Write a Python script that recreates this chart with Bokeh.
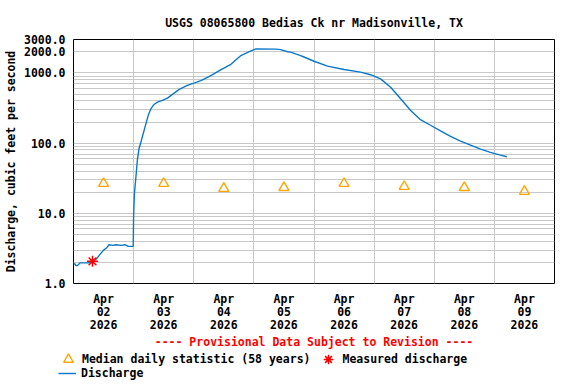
import pandas as pd
from bokeh.plotting import figure
from bokeh.layouts import column
from bokeh.models import (FixedTicker, Range1d, Legend, LegendItem,
                          PrintfTickFormatter)
from bokeh.embed import file_html
from bokeh.resources import INLINE

# ---------------- data ----------------
title_text = "USGS 08065800 Bedias Ck nr Madisonville, TX"
y_label = "Discharge, cubic feet per second"
provisional_text = "---- Provisional Data Subject to Revision ----"
median_label = "Median daily statistic (58 years)"
measured_label = "Measured discharge"
discharge_label = "Discharge"

discharge_times = [
    "2026-04-02 00:00", "2026-04-02 00:35", "2026-04-02 01:00", "2026-04-02 01:30",
    "2026-04-02 01:55", "2026-04-02 02:35", "2026-04-02 05:55", "2026-04-02 06:40",
    "2026-04-02 07:35", "2026-04-02 09:10", "2026-04-02 10:30", "2026-04-02 11:55",
    "2026-04-02 13:10", "2026-04-02 14:10", "2026-04-02 15:50", "2026-04-02 17:00",
    "2026-04-02 19:00", "2026-04-02 20:30", "2026-04-02 21:50", "2026-04-02 23:50",
    "2026-04-03 00:00", "2026-04-03 00:20", "2026-04-03 00:55", "2026-04-03 01:30",
    "2026-04-03 02:10", "2026-04-03 02:55", "2026-04-03 03:50", "2026-04-03 04:55",
    "2026-04-03 05:50", "2026-04-03 06:55", "2026-04-03 08:10", "2026-04-03 09:30",
    "2026-04-03 11:30", "2026-04-03 13:30", "2026-04-03 15:30", "2026-04-03 18:05",
    "2026-04-03 21:25", "2026-04-04 00:05", "2026-04-04 02:50", "2026-04-04 06:05",
    "2026-04-04 08:10", "2026-04-04 10:55", "2026-04-04 14:50", "2026-04-04 18:50",
    "2026-04-04 22:50", "2026-04-05 00:05", "2026-04-05 00:50", "2026-04-05 08:50",
    "2026-04-05 10:40", "2026-04-05 13:25", "2026-04-05 14:40", "2026-04-05 18:40",
    "2026-04-05 20:00", "2026-04-06 00:00", "2026-04-06 05:25", "2026-04-06 12:00",
    "2026-04-06 18:35", "2026-04-06 22:35", "2026-04-07 02:35", "2026-04-07 06:35",
    "2026-04-07 10:35", "2026-04-07 14:35", "2026-04-07 18:30", "2026-04-07 22:30",
    "2026-04-08 02:30", "2026-04-08 06:30", "2026-04-08 10:30", "2026-04-08 14:30",
    "2026-04-08 18:30", "2026-04-08 22:25", "2026-04-09 02:25", "2026-04-09 05:00",
]
discharge_cfs = [
    1.90, 1.90, 1.80, 1.80,
    1.85, 1.97, 1.97, 2.02,
    2.07, 2.24, 2.58, 2.97,
    3.20, 3.57, 3.50, 3.57,
    3.50, 3.57, 3.38, 3.38,
    9.5, 19.3, 33, 57.6,
    84, 104, 137, 190,
    249, 310, 356, 385,
    408, 439, 496, 580,
    664, 718, 780, 890,
    980, 1120, 1330, 1770,
    2060, 2150, 2200, 2190,
    2150, 2010, 1980, 1770,
    1690, 1470, 1250, 1120,
    1030, 945, 825, 625,
    430, 292, 216, 180,
    150, 125, 107, 94,
    82, 74, 67.5, 64,
]

median_times = ["2026-04-02 12:00", "2026-04-03 12:00", "2026-04-04 12:00",
                "2026-04-05 12:00", "2026-04-06 12:00", "2026-04-07 12:00",
                "2026-04-08 12:00", "2026-04-09 12:00"]
median_cfs = [26.6, 26.6, 22.6, 23.3, 26.6, 24.1, 23.3, 20.5]

measured_times = ["2026-04-02 07:35"]
measured_cfs = [2.07]

tick_times = median_times
tick_labels = ["Apr\n02\n2026", "Apr\n03\n2026", "Apr\n04\n2026", "Apr\n05\n2026",
               "Apr\n06\n2026", "Apr\n07\n2026", "Apr\n08\n2026", "Apr\n09\n2026"]
grid_times = ["2026-04-03", "2026-04-04", "2026-04-05", "2026-04-06",
              "2026-04-07", "2026-04-08", "2026-04-09"]
x_start, x_end = "2026-04-02 00:00", "2026-04-10 00:00"

y_ticks = [1, 10, 100, 1000, 2000, 3000]
y_grid = [1, 2, 3, 4, 5, 6, 7, 8, 9,
          10, 20, 30, 40, 50, 60, 70, 80, 90,
          100, 200, 300, 400, 500, 600, 700, 800, 900,
          1000, 2000, 3000]
y_start, y_end = 1, 3000

# ---------------- helpers ----------------
def ms(s):
    return pd.Timestamp(s).value / 1e6

FONT = "DejaVu Sans Mono"
FS = "11.5px"
GRID = "#c8c8c8"
LINE_BLUE = "#0a78c8"

line_style = dict(line_color=LINE_BLUE, line_width=1.4)
med_style = dict(marker="triangle", size=10, fill_color=None,
                 line_color="orange", line_width=1.4)
meas_style = dict(marker="asterisk", size=11, line_color="red", line_width=1.5)

# ---------------- main chart ----------------
p = figure(width=576, height=351, x_axis_type="datetime", y_axis_type="log",
           x_range=Range1d(ms(x_start), ms(x_end)),
           y_range=Range1d(y_start, y_end),
           output_backend="svg", toolbar_location=None,
           min_border_left=72, min_border_right=22,
           min_border_top=39, min_border_bottom=67,
           background_fill_color="white", border_fill_color="white",
           outline_line_color="black", outline_line_width=1)
p.frame_align = False

p.title.text = title_text
p.title.align = "center"
p.title.text_font = FONT
p.title.text_font_size = FS
p.title.text_font_style = "bold"
p.title.text_color = "black"
p.title.standoff = 19

p.xgrid.ticker = FixedTicker(ticks=[ms(t) for t in grid_times])
p.xgrid.grid_line_color = GRID
p.ygrid.ticker = FixedTicker(ticks=y_grid)
p.ygrid.grid_line_color = GRID

xa = p.xaxis[0]
xa.ticker = FixedTicker(ticks=[ms(t) for t in tick_times])
xa.major_label_overrides = {ms(t): lab for t, lab in zip(tick_times, tick_labels)}
xa.major_tick_line_color = None
xa.minor_tick_line_color = None
xa.axis_line_color = None
xa.major_tick_out = 0
xa.major_label_standoff = 8
xa.major_label_text_font = FONT
xa.major_label_text_font_size = FS
xa.major_label_text_font_style = "bold"
xa.major_label_text_color = "black"
xa.major_label_text_line_height = 0.93
xa.axis_label = provisional_text
xa.axis_label_text_font = FONT
xa.axis_label_text_font_size = FS
xa.axis_label_text_font_style = "bold"
xa.axis_label_text_color = "red"
xa.axis_label_standoff = 0

ya = p.yaxis[0]
ya.ticker = FixedTicker(ticks=y_ticks)
ya.formatter = PrintfTickFormatter(format="%.1f")
ya.major_tick_line_color = None
ya.minor_tick_line_color = None
ya.axis_line_color = None
ya.major_tick_out = 0
ya.major_label_standoff = 8
ya.major_label_text_font = FONT
ya.major_label_text_font_size = FS
ya.major_label_text_font_style = "bold"
ya.major_label_text_color = "black"
ya.axis_label = y_label
ya.axis_label_text_font = FONT
ya.axis_label_text_font_size = FS
ya.axis_label_text_font_style = "bold"
ya.axis_label_text_color = "black"
ya.axis_label_standoff = 3

dis_x = [ms(t) for t in discharge_times]
med_x = [ms(t) for t in median_times]
meas_x = [ms(t) for t in measured_times]

p.line(x=dis_x, y=discharge_cfs, **line_style)
p.scatter(x=med_x, y=median_cfs, **med_style)
p.scatter(x=meas_x, y=measured_cfs, **meas_style)

# ---------------- legend strip (below the chart) ----------------
# Its frame fills the whole strip; the series drawn here lie far outside its
# ranges, so only the legend keys show.
leg_fig = figure(width=576, height=33, x_range=Range1d(0, 1), y_range=Range1d(0, 1),
                 output_backend="svg", toolbar_location=None,
                 x_axis_location=None, y_axis_location=None,
                 min_border_left=0, min_border_right=0,
                 min_border_top=0, min_border_bottom=0,
                 background_fill_color="white", border_fill_color="white",
                 outline_line_color=None)
leg_fig.frame_align = False
leg_fig.xgrid.visible = False
leg_fig.ygrid.visible = False
l_line = leg_fig.line(x=dis_x, y=discharge_cfs, **line_style)
l_med = leg_fig.scatter(x=med_x, y=median_cfs, **med_style)
l_meas = leg_fig.scatter(x=meas_x, y=measured_cfs, **meas_style)

def style_legend(lg):
    lg.border_line_color = None
    lg.background_fill_alpha = 0
    lg.padding = 0
    lg.margin = 0
    lg.label_text_font = FONT
    lg.label_text_font_size = FS
    lg.label_text_font_style = "bold"
    lg.label_text_color = "black"

leg1 = Legend(items=[LegendItem(label=median_label, renderers=[l_med]),
                     LegendItem(label=measured_label, renderers=[l_meas])],
              orientation="horizontal", location=(56, 13.5))
style_legend(leg1)
leg1.glyph_width = 24
leg1.glyph_height = 24
leg1.label_height = 24
leg1.label_standoff = 2
leg1.spacing = 6

leg2 = Legend(items=[LegendItem(label=discharge_label, renderers=[l_line])],
              orientation="horizontal", location=(58, 3.7))
style_legend(leg2)
leg2.glyph_width = 18
leg2.glyph_height = 14
leg2.label_height = 14
leg2.label_standoff = 5

leg_fig.add_layout(leg1)
leg_fig.add_layout(leg2)

layout = column(p, leg_fig, spacing=0)

open("out.html", "w").write(file_html(layout, INLINE))
